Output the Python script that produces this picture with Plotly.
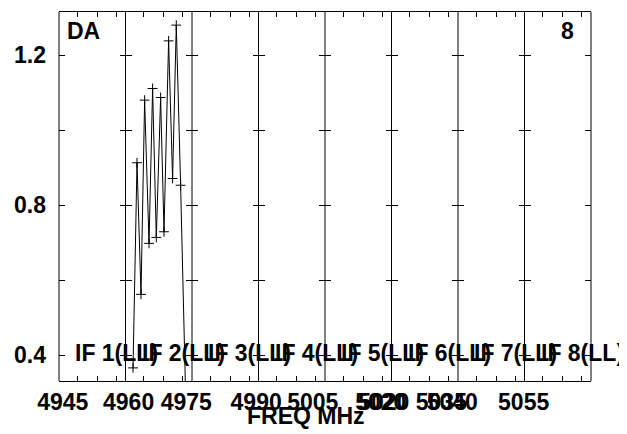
import plotly.graph_objects as go
from plotly.subplots import make_subplots

# ---- data ----
freq_mhz = [4961.81, 4962.77, 4963.73, 4964.60, 4965.66, 4966.52, 4967.41,
            4968.45, 4969.26, 4970.37, 4971.33, 4972.22, 4973.26, 4975.10]
amplitude = [0.366, 0.913, 0.562, 1.080, 0.698, 1.111, 0.714,
             1.087, 0.729, 1.238, 0.871, 1.280, 0.853, 0.000]

if_labels = ["IF 1(LL)", "IF 2(LL)", "IF 3(LL)", "IF 4(LL)",
             "IF 5(LL)", "IF 6(LL)", "IF 7(LL)", "IF 8(LL)"]
panel_start_mhz = 4944.0
panel_width_mhz = 16.0

freq_tick_text = ["4945", "4960", "4975", "4990", "5005",
                  "5020", "5020", "5035", "5040", "5055"]
freq_tick_mhz = [4944.91, 4960.75, 4974.63, 4991.43, 5005.07,
                 5021.43, 5022.15, 5035.99, 5038.63, 5055.79]
minor_tick_offsets_mhz = [4.4, 9.15, 13.8]

y_tick_vals = [0.4, 0.8, 1.2]
y_tick_text = ["0.4", "0.8", "1.2"]
y_range = [0.331, 1.315]

source_label = "DA"
stokes_label = "8"
x_title = "FREQ MHz"

FONT = "Liberation Sans, Arial, sans-serif"
FS = 23
n_panels = len(if_labels)

fig = make_subplots(rows=1, cols=n_panels, shared_yaxes=True,
                    horizontal_spacing=0)

for k in range(n_panels):
    lo = panel_start_mhz + k * panel_width_mhz
    hi = lo + panel_width_mhz
    xs = [f for f in freq_mhz if lo <= f < hi]
    ys = [a for f, a in zip(freq_mhz, amplitude) if lo <= f < hi]
    fig.add_trace(go.Scatter(
        x=xs, y=ys, mode="lines+markers",
        line=dict(color="black", width=1),
        marker=dict(symbol="cross-thin", size=7,
                    line=dict(color="black", width=1)),
        showlegend=False, hoverinfo="skip"), row=1, col=k + 1)

    tv = [v for v in freq_tick_mhz if lo <= v <= hi]
    tt = [t for v, t in zip(freq_tick_mhz, freq_tick_text) if lo <= v <= hi]
    fig.update_xaxes(
        row=1, col=k + 1,
        range=[lo, hi], showgrid=False, zeroline=False, automargin=False,
        showline=True, linecolor="black", linewidth=1, mirror="allticks",
        tickmode="array", tickvals=tv, ticktext=tt, ticks="", tickangle=0,
        tickfont=dict(family=FONT, size=FS, color="black", weight="bold"),
        ticklabelstandoff=0,
        minor=dict(tickmode="array",
                   tickvals=[lo + o for o in minor_tick_offsets_mhz],
                   ticks="inside", ticklen=5, tickcolor="black",
                   tickwidth=1, showgrid=False),
    )
    fig.update_yaxes(
        row=1, col=k + 1,
        range=y_range, showgrid=False, zeroline=False, automargin=False,
        showline=False, mirror="allticks",
        tickmode="array", tickvals=y_tick_vals, ticktext=y_tick_text,
        ticks="inside", ticklen=6, tickcolor="black", tickwidth=1,
        showticklabels=(k == 0),
        tickfont=dict(family=FONT, size=FS, color="black", weight="bold"),
        ticklabelstandoff=12,
        minor=dict(tickmode="linear", tick0=0.4, dtick=0.2,
                   ticks="inside", ticklen=6, tickcolor="black",
                   tickwidth=1, showgrid=False),
    )
    fig.add_annotation(
        text=if_labels[k], xref=f"x{'' if k == 0 else k + 1} domain",
        yref="paper", x=0.215, y=0.075, xanchor="left", yanchor="middle",
        showarrow=False,
        font=dict(family=FONT, size=FS, color="black", weight="bold"))

# panel frame separators (one line per boundary)
for k in range(n_panels + 1):
    fig.add_shape(type="line", xref="paper", yref="paper",
                  x0=k / n_panels, x1=k / n_panels, y0=0, y1=1,
                  line=dict(color="black", width=1))

fig.add_annotation(text=source_label, xref="paper", yref="paper",
                   x=0.0118, y=0.9485, xanchor="left", yanchor="middle",
                   showarrow=False,
                   font=dict(family=FONT, size=FS, color="black", weight="bold"))
fig.add_annotation(text=stokes_label, xref="paper", yref="paper",
                   x=0.9554, y=0.9485, xanchor="center", yanchor="middle",
                   showarrow=False,
                   font=dict(family=FONT, size=FS, color="black", weight="bold"))
fig.add_annotation(text=x_title, xref="paper", yref="paper",
                   x=0.4649, y=-0.0949, xanchor="center", yanchor="middle",
                   showarrow=False,
                   font=dict(family=FONT, size=FS, color="black", weight="bold"))

# the page body adds an 8px offset, so margins are shifted accordingly
fig.update_layout(
    width=627, height=434,
    margin=dict(l=50.7, r=44.3, t=4, b=61, autoexpand=False),
    paper_bgcolor="white", plot_bgcolor="white",
    showlegend=False,
)

fig.write_html("out.html")
